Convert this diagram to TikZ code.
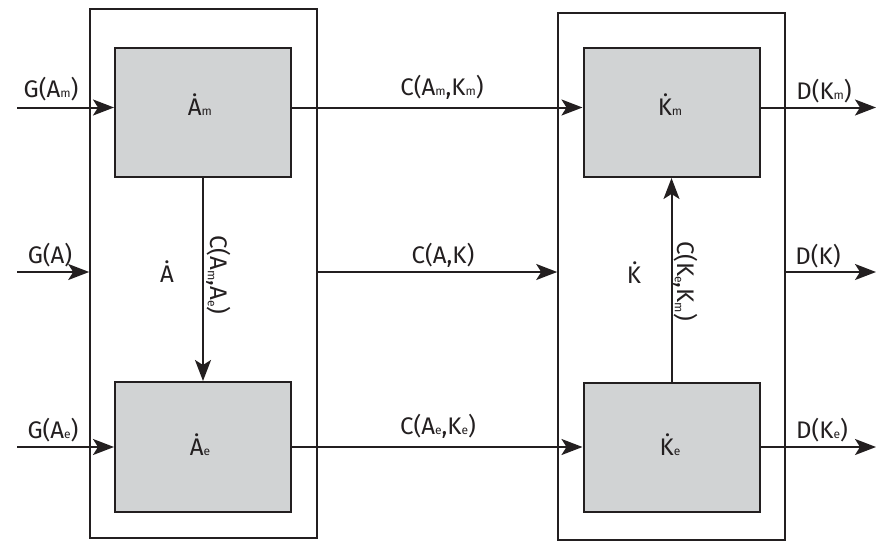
\documentclass[tikz,border=0pt]{standalone}
\usepackage{fontspec}
\setmainfont{Fira Sans}
\usetikzlibrary{arrows.meta}
\definecolor{ink}{HTML}{231F20}
\definecolor{boxgray}{HTML}{D1D3D4}
\newcommand\sbs[1]{{\fontsize{12}{12}\selectfont #1}}
\newcommand\lsbs[1]{\raisebox{-3pt}{\fontsize{12}{12}\selectfont #1}}
\tikzset{
  every node/.style={font=\fontsize{24}{24}\selectfont, text=ink},
  graybox/.style={draw=ink, line width=2pt, fill=boxgray, minimum width=176pt, minimum height=129pt, inner sep=0pt},
  outerbox/.style={draw=ink, line width=1.6pt, minimum width=227pt, inner sep=0pt},
  arr/.style={draw=ink, line width=2pt, -{Stealth[length=21pt,width=16pt,inset=5pt]}},
  lbl/.style={anchor=base, inner sep=0pt},
}
\begin{document}
\begin{tikzpicture}[x=1pt,y=-1pt]
\useasboundingbox (0,0) rectangle (877,541);
% outer boxes
\node[outerbox, minimum height=529pt] (Lout) at (203.5,273.5) {};
\node[outerbox, minimum height=527pt] (Rout) at (671.5,276.5) {};
% gray boxes
\node[graybox] (Am) at (203,112.5) {};
\node[graybox, minimum height=130pt] (Ae) at (203,447) {};
\node[graybox] (Km) at (671.5,112.5) {};
\node[graybox] (Ke) at (671.5,447.5) {};
% box labels
\node[lbl] (tAm) at (200,115) {\.{A}\sbs{m}};
\node[lbl] (tAe) at (200,455) {\.{A}\sbs{e}};
\node[lbl] (tKm) at (670,115) {\.{K}\sbs{m}};
\node[lbl] (tKe) at (670,455) {\.{K}\sbs{e}};
\node[lbl] (tA) at (167,282) {\.{A}};
\node[lbl] (tK) at (634,283) {\.{K}};
% row coordinates
\coordinate (gAm) at (17,107.5);
\coordinate (gA) at (17,272);
\coordinate (gAe) at (17,447);
\coordinate (dKm) at (876,107.5);
\coordinate (dK) at (876,272);
\coordinate (dKe) at (876,447);
% inputs
\draw[arr] (gAm) -- (gAm -| Am.west);
\draw[arr] (gA) -- (gA -| Lout.west);
\draw[arr] (gAe) -- (gAe -| Ae.west);
% cross flows
\draw[arr] (gAm -| Am.east) -- (gAm -| Km.west);
\draw[arr] (gA -| Lout.east) -- (gA -| Rout.west);
\draw[arr] (gAe -| Ae.east) -- (gAe -| Ke.west);
% outputs
\draw[arr] (dKm -| Km.east) -- (dKm);
\draw[arr] (dK -| Rout.east) -- (dK);
\draw[arr] (dKe -| Ke.east) -- (dKe);
% internal flows
\draw[arr] (Am.south) -- (Ae.north);
\draw[arr] (Ke.north) -- (Km.south);
% labels
\node[lbl] (lGAm) at (51,97) {G(A\sbs{m})};
\node[lbl] (lGA) at (50,263) {G(A)};
\node[lbl] (lGAe) at (53,438) {G(A\sbs{e})};
\node[lbl] (lCm) at (442,95) {C(A\sbs{m},K\sbs{m})};
\node[lbl] (lC) at (443,263) {C(A,K)};
\node[lbl] (lCe) at (438,434) {C(A\sbs{e},K\sbs{e})};
\node[lbl] (lDm) at (824,99) {D(K\sbs{m})};
\node[lbl] (lD) at (818,264) {D(K)};
\node[lbl] (lDe) at (822,438) {D(K\sbs{e})};
\node[inner sep=0pt, rotate=-90] (lCAA) at (219,275) {C(A\lsbs{m},A\lsbs{e})};
\node[inner sep=0pt, rotate=-90] (lCKK) at (686,281) {C(K\lsbs{e},K\lsbs{m})};
\end{tikzpicture}
\end{document}
